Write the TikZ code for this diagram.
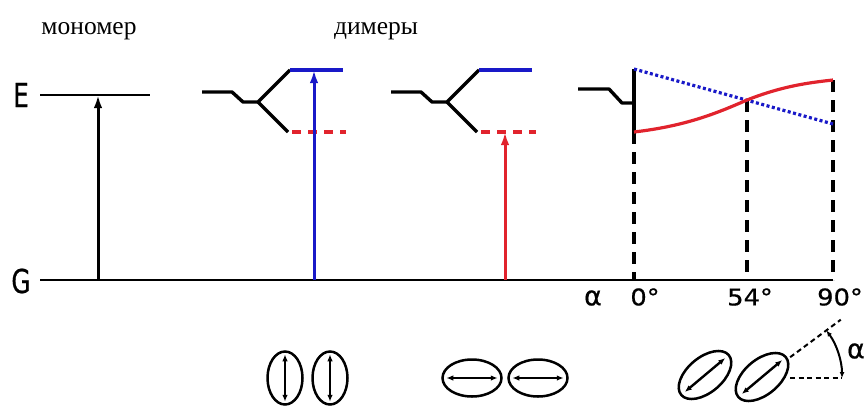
\documentclass[tikz,border=0pt]{standalone}
\usepackage{fontspec}
\setmainfont{Liberation Serif}
\newfontfamily\labfont[FakeStretch=0.75,FakeBold=0.6]{DejaVu Sans}
\newfontfamily\numfont[FakeStretch=1.12,FakeBold=0.6]{DejaVu Sans}
\newfontfamily\alfont[FakeBold=0.6]{DejaVu Sans}
\usetikzlibrary{arrows.meta,shapes.geometric,calc}
\definecolor{myblue}{RGB}{25,25,200}
\definecolor{myred}{RGB}{225,35,45}
\tikzset{
  lvl/.style={line width=2.6pt, black},
  dim/.style={line width=3.4pt, black, line join=round},
  upblue/.style={line width=3.2pt, myblue},
  lowred/.style={line width=3.2pt, myred, dash pattern=on 9pt off 7pt},
  excarrow/.style={line width=3pt, -{Latex[length=13pt,width=8.5pt]}},
  vdash/.style={line width=3.2pt, black, dash pattern=on 12pt off 8pt},
  bluedot/.style={line width=3.2pt, myblue, dash pattern=on 3pt off 2.5pt},
  redcurve/.style={line width=3.2pt, myred},
  lab/.style={font=\labfont\fontsize{33}{33}\selectfont, inner sep=0pt},
  numlab/.style={font=\numfont\fontsize{23}{23}\selectfont, inner sep=0pt},
  allab/.style={font=\alfont\fontsize{27}{27}\selectfont, inner sep=0pt},
  cyr/.style={font=\fontsize{25.5}{25.5}\selectfont, inner sep=0pt, anchor=base},
  molv/.style={draw, ellipse, line width=2.5pt, inner sep=0pt, minimum width=35pt, minimum height=53pt},
  molh/.style={draw, ellipse, line width=2.5pt, inner sep=0pt, minimum width=59pt, minimum height=37pt},
  molt/.style={draw, ellipse, line width=2.5pt, inner sep=0pt, minimum width=62pt, minimum height=35pt, rotate=40},
  dip/.style={line width=2.4pt, {Latex[length=7pt,width=5.5pt]}-{Latex[length=7pt,width=5.5pt]}},
  angdash/.style={line width=2pt, dash pattern=on 5pt off 3.5pt},
  angarc/.style={line width=2pt, {Latex[length=6pt,width=5pt]}-{Latex[length=6pt,width=5pt]}}
}
\begin{document}
\begin{tikzpicture}[x=1pt,y=-1pt]
\useasboundingbox (0,0) rectangle (866,407);
% titles
\node[cyr] (mono) at (89,34) {мономер};
\node[cyr] (dim) at (376,34) {димеры};
% level labels
\node[lab] (E) at (21,95) {E};
\node[lab] (G) at (21,281) {G};
% levels
\coordinate (e1) at (40,95); \coordinate (e2) at (150,95);
\coordinate (g1) at (40,280); \coordinate (g2) at (833,280);
\draw[lvl] (e1) -- (e2);
\draw[lvl] (g1) -- (g2);
% monomer arrow
\coordinate (ma0) at (98,280); \coordinate (ma1) at (98,95);
\draw[excarrow] (ma0) -- (ma1);
% dimer 1
\coordinate (a0) at (202,92); \coordinate (a1) at (232,92); \coordinate (a2) at (243,102);
\coordinate (a3) at (258,102); \coordinate (au) at (290,70); \coordinate (al) at (288,132);
\draw[dim] (a0) -- (a1) -- (a2) -- (a3) -- (au);
\draw[dim] (a3) -- (al);
\coordinate (ab) at (343,70); \coordinate (ar0) at (292,132); \coordinate (ar1) at (346,132);
\draw[upblue] (au) -- (ab);
\draw[lowred] (ar0) -- (ar1);
\coordinate (aa0) at (314,280); \coordinate (aa1) at (314,70);
\draw[excarrow, myblue] (aa0) -- (aa1);
% dimer 2
\coordinate (b0) at (391,92); \coordinate (b1) at (421,92); \coordinate (b2) at (432,102);
\coordinate (b3) at (447,102); \coordinate (bu) at (479,70); \coordinate (bl) at (477,132);
\draw[dim] (b0) -- (b1) -- (b2) -- (b3) -- (bu);
\draw[dim] (b3) -- (bl);
\coordinate (bb) at (532,70); \coordinate (br0) at (481,132); \coordinate (br1) at (536,132);
\draw[upblue] (bu) -- (bb);
\draw[lowred] (br0) -- (br1);
\coordinate (ba0) at (505,280); \coordinate (ba1) at (505,132);
\draw[excarrow, myred] (ba0) -- (ba1);
% dimer 3 (angle dependence)
\coordinate (c0) at (578,89); \coordinate (c1) at (609,89); \coordinate (c2) at (622,103);
\coordinate (c3) at (634,103); \coordinate (ct) at (634,69); \coordinate (cb) at (634,132);
\draw[dim] (c0) -- (c1) -- (c2) -- (c3);
\draw[dim] (ct) -- (cb);
\coordinate (cx) at (747,100); \coordinate (cend) at (833,80); \coordinate (cbl) at (833,124);
\draw[vdash] (cb) -- (634,280);
\draw[vdash] (cx) -- (747,280);
\draw[vdash] (cend) -- (833,280);
\draw[bluedot] (ct) -- (cbl);
\draw[redcurve] (cb) .. controls (685,126) and (715,114) .. (cx) .. controls (780,87) and (805,83) .. (cend);
% angle labels
\node[allab] (al0) at (593,298) {α};
\node[numlab] (d0) at (645,297) {0°};
\node[numlab] (d54) at (750,297) {54°};
\node[numlab] (d90) at (840,297) {90°};
% molecules: parallel
\node[molv] (m1) at (285,378) {};
\node[molv] (m2) at (330,378) {};
\draw[dip] ([yshift=-4pt]m1.north) -- ([yshift=4pt]m1.south);
\draw[dip] ([yshift=-4pt]m2.north) -- ([yshift=4pt]m2.south);
% molecules: head-to-tail
\node[molh] (n1) at (472,378) {};
\node[molh] (n2) at (538,378) {};
\draw[dip] ([xshift=5pt]n1.west) -- ([xshift=-5pt]n1.east);
\draw[dip] ([xshift=5pt]n2.west) -- ([xshift=-5pt]n2.east);
% molecules: oblique
\node[molt] (t1) at (705,375) {};
\node[molt] (t2) at (762,377) {};
\draw[dip] ($(t1.west)!0.09!(t1.east)$) -- ($(t1.east)!0.09!(t1.west)$);
\draw[dip] ($(t2.west)!0.09!(t2.east)$) -- ($(t2.east)!0.09!(t2.west)$);
% angle alpha
\coordinate (V) at (762,378);
\coordinate (h0) at (790,378); \coordinate (h1) at (842,378);
\coordinate (d0s) at ($(V)+(-36.5:35)$); \coordinate (d0e) at ($(V)+(-36.5:98)$);
\draw[angdash] (h0) -- (h1);
\draw[angdash] (d0s) -- (d0e);
\coordinate (arcA) at (826.3,330.4); \coordinate (arcB) at (842,378);
\draw[angarc] (arcA) .. controls (836.5,344.1) and (842,360.9) .. (arcB);
\node[allab] (alpha2) at (856,351) {α};
\end{tikzpicture}
\end{document}
